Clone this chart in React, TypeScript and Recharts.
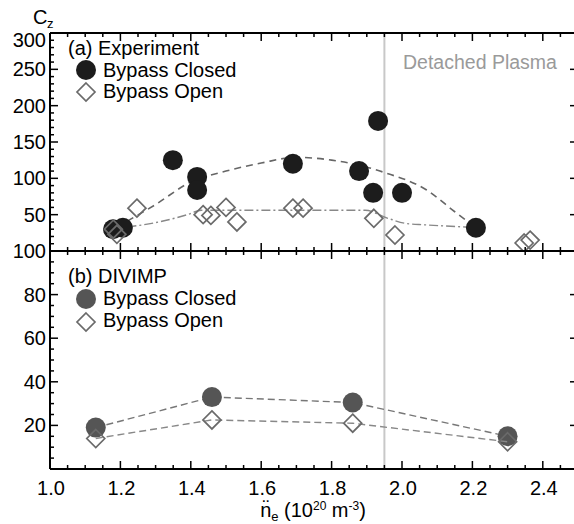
import React from "react";
import { ComposedChart, Scatter, Line, XAxis, YAxis, ReferenceLine } from "recharts";

const FONT = '"Liberation Sans", Arial, Helvetica, sans-serif';

// axis ticks
const xMajor = [1.0, 1.2, 1.4, 1.6, 1.8, 2.0, 2.2, 2.4];
const xMinor = [1.05, 1.1, 1.15, 1.25, 1.3, 1.35, 1.45, 1.5, 1.55, 1.65, 1.7, 1.75, 1.85, 1.9, 1.95, 2.05, 2.1, 2.15, 2.25, 2.3, 2.35, 2.45];
const yTopMajor = [0, 50, 100, 150, 200, 250, 300];
const yTopMinor = [10, 20, 30, 40, 60, 70, 80, 90, 110, 120, 130, 140, 160, 170, 180, 190, 210, 220, 230, 240, 260, 270, 280, 290];
const yBotMajor = [0, 20, 40, 60, 80, 100];
const yBotMinor = [5, 10, 15, 25, 30, 35, 45, 50, 55, 65, 70, 75, 85, 90, 95];

// (a) Experiment
const expClosedX = [1.179, 1.207, 1.349, 1.418, 1.418, 1.69, 1.878, 1.918, 1.932, 2.0, 2.21];
const expClosedY = [30, 32, 125, 102, 84, 120, 110, 80, 179, 80, 32];
const expOpenX = [1.18, 1.19, 1.247, 1.435, 1.457, 1.5, 1.531, 1.69, 1.719, 1.92, 1.98, 2.347, 2.364];
const expOpenY = [30, 23, 59, 50, 49, 60, 40, 59, 59, 45, 22, 11, 15];
const expClosedFitX = [1.19, 1.3, 1.4, 1.5, 1.6, 1.7, 1.8, 1.87, 1.95, 2.07, 2.15, 2.21];
const expClosedFitY = [33, 64, 95, 110, 121, 129, 125, 119, 108, 84, 54, 32];
const expOpenFitX = [1.22, 1.31, 1.39, 1.43, 1.6, 1.8, 1.895, 1.96, 2.01, 2.065, 2.18, 2.21];
const expOpenFitY = [33, 40, 50, 56, 56, 56, 56, 45, 38, 36, 33, 32];

// (b) DIVIMP
const divX = [1.13, 1.46, 1.86, 2.3];
const divClosedY = [19, 33, 30.5, 15];
const divOpenY = [14, 22.5, 21, 12.5];

const detachX = 1.95;

const pts = (xs: number[], ys: number[]) => xs.map((x, i) => ({ x, y: ys[i] }));
const isIn = (v: number, arr: number[]) => arr.some((m) => Math.abs(m - v) < 1e-6);

type Side = "left" | "right" | "top" | "bottom";

function makeTick(side: Side, majors: number[], labels: boolean, fmt: (v: number) => string) {
  const top = Math.max(...majors);
  return (p: any) => {
    const v = p.payload.value;
    const major = isIn(v, majors);
    const len = major ? 8 : 4;
    const x = Number(p.x);
    const y = Number(p.y);
    let line;
    if (side === "left") line = <line x1={x} x2={x + len} y1={y} y2={y} stroke="#000" strokeWidth={1.5} />;
    else if (side === "right") line = <line x1={x} x2={x - len} y1={y} y2={y} stroke="#000" strokeWidth={1.5} />;
    else if (side === "top") line = <line x1={x} x2={x} y1={y} y2={y + len} stroke="#000" strokeWidth={1.5} />;
    else line = <line x1={x} x2={x} y1={y} y2={y - len} stroke="#000" strokeWidth={1.5} />;
    let label = null;
    if (labels && major) {
      if (side === "left" && v !== 0)
        label = (
          <text x={x - 4} y={y + (v === top && top === 300 ? 14 : 7)} textAnchor="end" fontSize={20} fontFamily={FONT} fill="#000">
            {fmt(v)}
          </text>
        );
      else if (side === "bottom")
        label = (
          <text x={x + 1} y={y + 26} textAnchor="middle" fontSize={20} fontFamily={FONT} fill="#000">
            {fmt(v)}
          </text>
        );
    }
    return (
      <g>
        {line}
        {label}
      </g>
    );
  };
}

const fmtX = (v: number) => v.toFixed(1);
const fmtY = (v: number) => String(Math.round(v));

const closedDot = (fill: string, r: number) => (p: any) => <circle cx={p.cx} cy={p.cy} r={r} fill={fill} />;
const diamond = (p: any) => {
  const h = 9;
  return (
    <path
      d={`M${p.cx},${p.cy - h} L${p.cx + h},${p.cy} L${p.cx},${p.cy + h} L${p.cx - h},${p.cy} Z`}
      fill="none"
      stroke="#6a6a6a"
      strokeWidth={1.7}
    />
  );
};

const axisLine = { stroke: "#000", strokeWidth: 2 };

export default function App() {
  const xTicks = [...xMajor, ...xMinor];
  const yTopTicks = [...yTopMajor, ...yTopMinor];
  const yBotTicks = [...yBotMajor, ...yBotMinor];

  const common = { tickSize: 0, tickMargin: 0, tickLine: false, interval: 0 as const, axisLine, allowDataOverflow: true };

  return (
    <div style={{ position: "fixed", left: 0, top: 0, width: 574, height: 524, overflow: "hidden", background: "#fff" }}>
      {/* top panel */}
      <div style={{ position: "absolute", left: 0, top: 0 }}>
        <ComposedChart width={581} height={255} margin={{ top: 32, right: 2, bottom: 3, left: 0 }}>
          <XAxis xAxisId="b" type="number" dataKey="x" domain={[1, 2.5]} orientation="bottom" height={1} ticks={xTicks} tick={makeTick("bottom", xMajor, false, fmtX)} {...common} />
          <XAxis xAxisId="t" type="number" dataKey="x" domain={[1, 2.5]} orientation="top" height={1} ticks={xTicks} tick={makeTick("top", xMajor, false, fmtX)} {...common} />
          <YAxis yAxisId="l" type="number" domain={[0, 300]} orientation="left" width={50} ticks={yTopTicks} tick={makeTick("left", yTopMajor, true, fmtY)} {...common} />
          <YAxis yAxisId="r" type="number" domain={[0, 300]} orientation="right" width={1} ticks={yTopTicks} tick={makeTick("right", yTopMajor, false, fmtY)} {...common} />
          <ReferenceLine xAxisId="b" yAxisId="l" x={detachX} stroke="#c8c8c8" strokeWidth={2} />
          <Line xAxisId="b" yAxisId="l" data={pts(expClosedFitX, expClosedFitY)} dataKey="y" type="monotone" dot={false} stroke="#666" strokeWidth={1.6} strokeDasharray="7 5" isAnimationActive={false} />
          <Line xAxisId="b" yAxisId="l" data={pts(expOpenFitX, expOpenFitY)} dataKey="y" type="monotone" dot={false} stroke="#888" strokeWidth={1.4} strokeDasharray="9 3 2 3" isAnimationActive={false} />
          <Scatter xAxisId="b" yAxisId="l" data={pts(expClosedX, expClosedY)} dataKey="y" shape={closedDot("#1c1c1c", 10)} isAnimationActive={false} />
          <Scatter xAxisId="b" yAxisId="l" data={pts(expOpenX, expOpenY)} dataKey="y" shape={diamond} isAnimationActive={false} />
        </ComposedChart>
      </div>

      {/* bottom panel */}
      <div style={{ position: "absolute", left: 0, top: 236 }}>
        <ComposedChart width={581} height={288} margin={{ top: 14, right: 2, bottom: 0, left: 0 }}>
          <XAxis xAxisId="b" type="number" dataKey="x" domain={[1, 2.5]} orientation="bottom" height={55} ticks={xTicks} tick={makeTick("bottom", xMajor, true, fmtX)} {...common} />
          <XAxis xAxisId="t" type="number" dataKey="x" domain={[1, 2.5]} orientation="top" height={1} ticks={xTicks} tick={makeTick("top", xMajor, false, fmtX)} {...common} />
          <YAxis yAxisId="l" type="number" domain={[0, 100]} orientation="left" width={50} ticks={yBotTicks} tick={makeTick("left", yBotMajor, true, fmtY)} {...common} />
          <YAxis yAxisId="r" type="number" domain={[0, 100]} orientation="right" width={1} ticks={yBotTicks} tick={makeTick("right", yBotMajor, false, fmtY)} {...common} />
          <ReferenceLine xAxisId="b" yAxisId="l" x={detachX} stroke="#c8c8c8" strokeWidth={2} />
          <Scatter xAxisId="b" yAxisId="l" data={pts(divX, divClosedY)} dataKey="y" line={{ stroke: "#777", strokeWidth: 1.4, strokeDasharray: "7 4" }} shape={closedDot("#555", 10)} isAnimationActive={false} />
          <Scatter xAxisId="b" yAxisId="l" data={pts(divX, divOpenY)} dataKey="y" line={{ stroke: "#888", strokeWidth: 1.4, strokeDasharray: "7 4" }} shape={diamond} isAnimationActive={false} />
        </ComposedChart>
      </div>

      {/* annotations */}
      <svg width={574} height={524} style={{ position: "absolute", left: 0, top: 0, pointerEvents: "none" }} fontFamily={FONT}>
        <text x={33} y={24} fontSize={20} fill="#000">C</text>
        <text x={47} y={28} fontSize={13} fill="#000">z</text>

        <text x={68} y={55} fontSize={20} fill="#000">(a) Experiment</text>
        <circle cx={86} cy={70} r={10} fill="#1c1c1c" />
        <text x={103} y={77} fontSize={20} fill="#000">Bypass Closed</text>
        {diamond({ cx: 86, cy: 92 })}
        <text x={103} y={98} fontSize={20} fill="#000">Bypass Open</text>
        <text x={403} y={69} fontSize={19.5} fill="#9a9a9a">Detached Plasma</text>

        <text x={68} y={283} fontSize={20} fill="#000">(b) DIVIMP</text>
        <circle cx={86} cy={299} r={10} fill="#555" />
        <text x={103} y={305} fontSize={20} fill="#000">Bypass Closed</text>
        {diamond({ cx: 86, cy: 322 })}
        <text x={103} y={327} fontSize={20} fill="#000">Bypass Open</text>

        <text x={313} y={517} fontSize={20} fill="#000" textAnchor="middle">
          {"n\u0308"}
          <tspan fontSize={13} dy={4}>e</tspan>
          <tspan dy={-4}>{" (10"}</tspan>
          <tspan fontSize={12} dy={-7}>20</tspan>
          <tspan dy={7}>{" m"}</tspan>
          <tspan fontSize={12} dy={-7}>-3</tspan>
          <tspan dy={7}>)</tspan>
        </text>
      </svg>
    </div>
  );
}
